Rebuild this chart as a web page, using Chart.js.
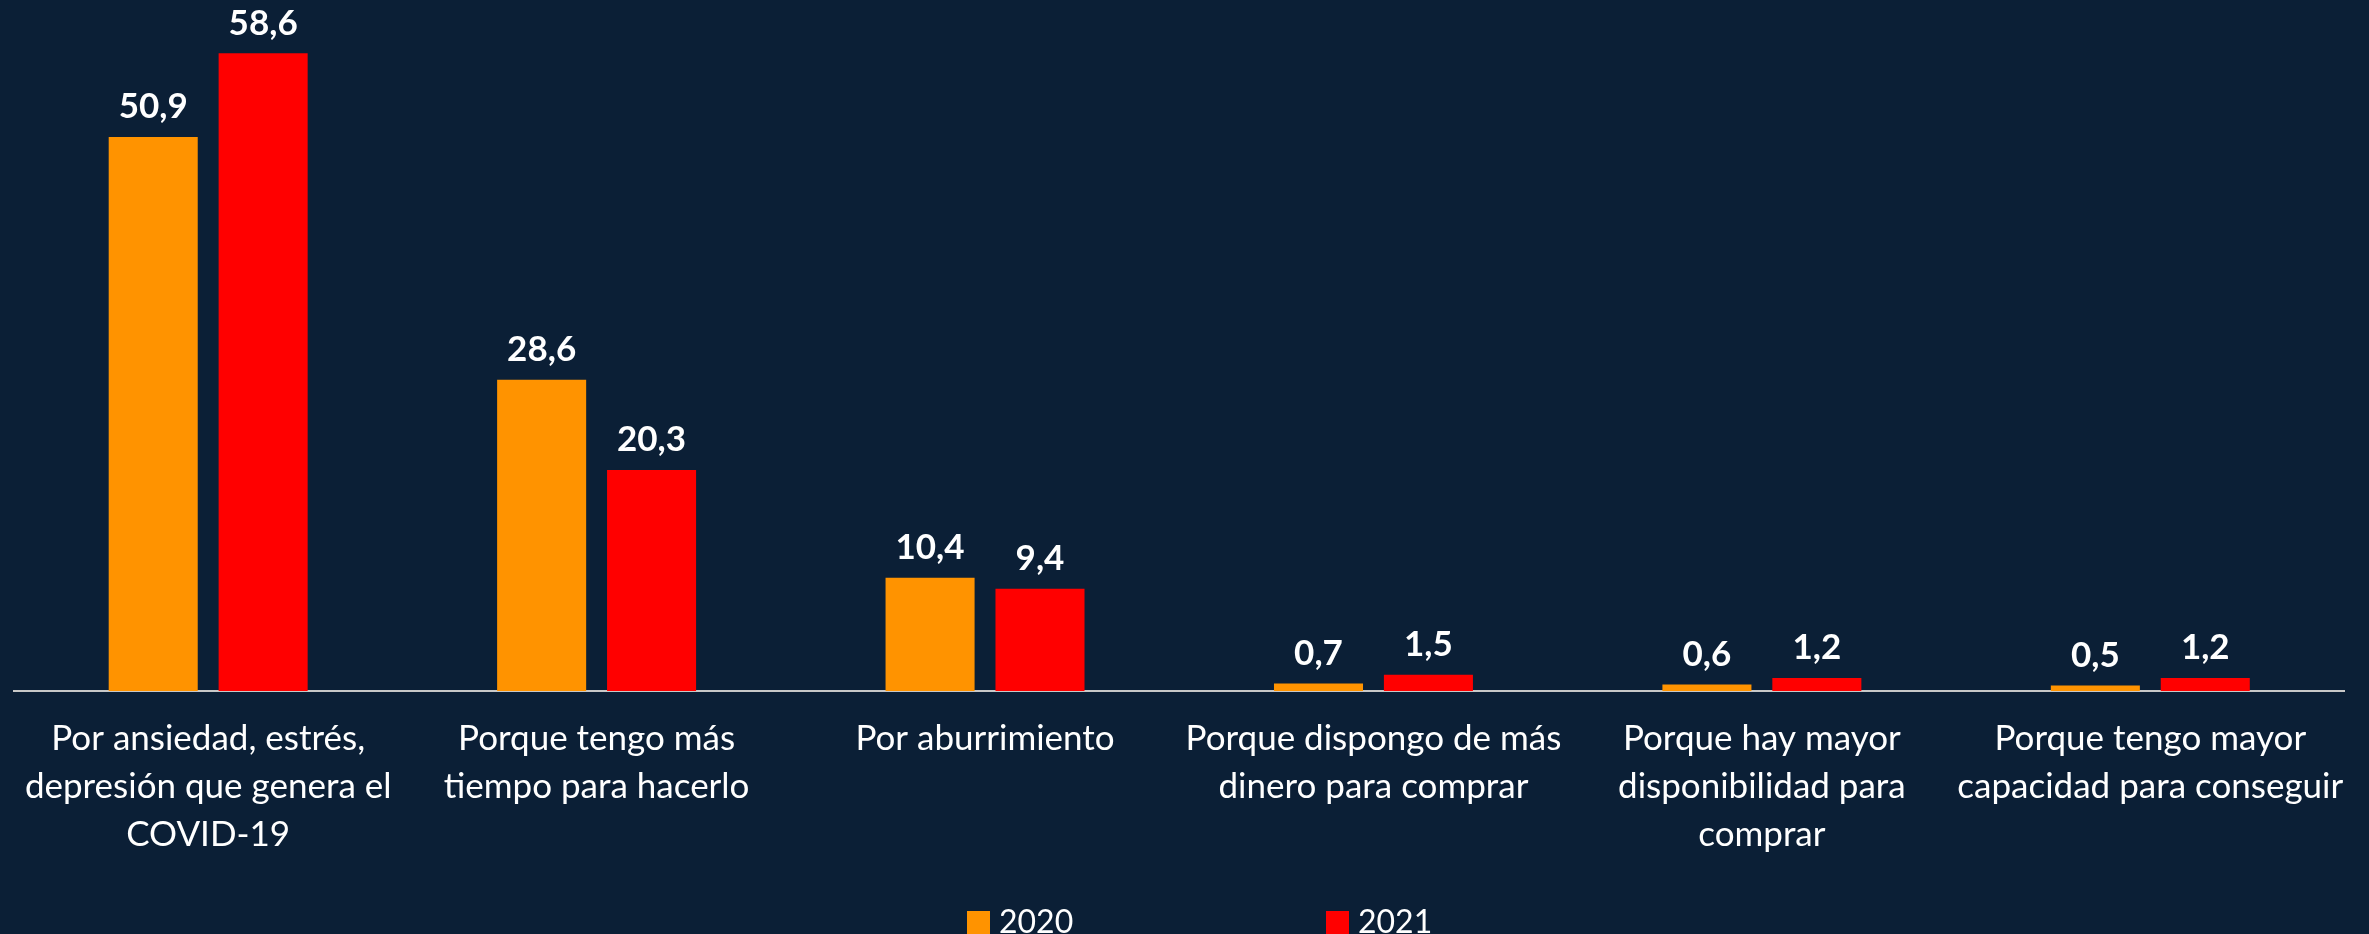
<!DOCTYPE html>
<html><head><meta charset="utf-8">
<script src="https://cdn.jsdelivr.net/npm/chart.js@4"></script>
<style>html,body{margin:0;padding:0;background:#0B1F36;overflow:hidden}
#wrap{position:relative;width:2369px;height:934px}</style>
</head><body><div id="wrap"><canvas id="c" width="2369" height="934"></canvas></div>
<script>
const categories = [
  ["Por ansiedad, estrés,", "depresión que genera el", "COVID-19"],
  ["Porque tengo más", "tiempo para hacerlo"],
  ["Por aburrimiento"],
  ["Porque dispongo de más", "dinero para comprar"],
  ["Porque hay mayor", "disponibilidad para", "comprar"],
  ["Porque tengo mayor", "capacidad para conseguir"]
];
const seriesNames = ["2020", "2021"];
const values2020 = [50.9, 28.6, 10.4, 0.7, 0.6, 0.5];
const values2021 = [58.6, 20.3, 9.4, 1.5, 1.2, 1.2];
const seriesColors = ["#FF9300", "#FF0000"];
const BG = "#0B1F36";
const FONT = "Lato, 'Open Sans', sans-serif";

const bgPlugin = {
  id: 'bg',
  beforeDraw(chart) {
    const c = chart.ctx;
    c.save(); c.fillStyle = BG; c.fillRect(0, 0, chart.width, chart.height); c.restore();
  }
};

const valueLabels = {
  id: 'valueLabels',
  afterDatasetsDraw(chart) {
    const c = chart.ctx;
    c.save();
    c.font = "bold 35px " + FONT;
    c.fillStyle = "#FFFFFF";
    c.textAlign = "center";
    c.textBaseline = "middle";
    chart.data.datasets.forEach((ds, di) => {
      const meta = chart.getDatasetMeta(di);
      meta.data.forEach((bar, i) => {
        const txt = ds.data[i].toFixed(1).replace('.', ',');
        c.fillText(txt, bar.x, bar.y - 30);
      });
    });
    c.restore();
  }
};

const customLegend = {
  id: 'customLegend',
  afterDraw(chart) {
    const c = chart.ctx;
    c.save();
    c.font = "32px " + FONT;
    c.textBaseline = "alphabetic";
    c.textAlign = "left";
    const starts = [967, 1326];
    chart.data.datasets.forEach((ds, di) => {
      const x = starts[di];
      c.fillStyle = ds.backgroundColor;
      c.fillRect(x, 911, 23, 23);
      c.fillStyle = "#FFFFFF";
      c.fillText(ds.label, x + 32, 933);
    });
    c.restore();
  }
};

new Chart(document.getElementById('c'), {
  type: 'bar',
  data: {
    labels: categories,
    datasets: [
      { label: seriesNames[0], data: values2020, backgroundColor: seriesColors[0] },
      { label: seriesNames[1], data: values2021, backgroundColor: seriesColors[1] }
    ]
  },
  options: {
    responsive: false,
    animation: false,
    devicePixelRatio: 1,
    categoryPercentage: 0.566,
    barPercentage: 0.81,
    layout: { padding: { left: 12, right: 23, top: 38, bottom: 0 } },
    plugins: { legend: { display: false }, tooltip: { enabled: false } },
    scales: {
      x: {
        z: 1,
        grid: { display: false, drawTicks: false },
        border: { display: true, color: "#C8C8C8", width: 2 },
        ticks: {
          color: "#FFFFFF",
          font: { family: FONT, size: 35, lineHeight: 48/35 },
          padding: 24,
          maxRotation: 0, minRotation: 0, autoSkip: false
        },
        afterFit(scale) { scale.height = 243; }
      },
      y: { display: false, min: 0, max: 60 }
    }
  },
  plugins: [bgPlugin, valueLabels, customLegend]
});
</script></body></html>
